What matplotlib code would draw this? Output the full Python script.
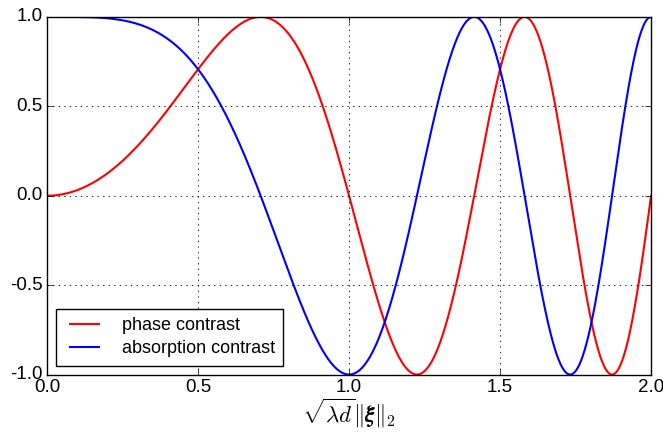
import numpy as np
import matplotlib
matplotlib.use("Agg")
import matplotlib.pyplot as plt

plt.style.use("classic")
plt.rcParams['font.family'] = ['Liberation Sans', 'DejaVu Sans']
plt.rcParams['mathtext.fontset'] = 'cm'

# normalised spatial frequency sqrt(lambda d) * |xi|
freq = np.linspace(0.0, 2.0, 1001)
phase = np.sin(np.pi * freq ** 2)
absorption = np.cos(np.pi * freq ** 2)

xticks = [0.0, 0.5, 1.0, 1.5, 2.0]
yticks = [-1.0, -0.5, 0.0, 0.5, 1.0]

fig = plt.figure(figsize=(6.63, 4.33), dpi=100)
ax = fig.add_axes([0.071, 0.135, 0.911, 0.826])
ax.plot(freq, phase, color="red", lw=1.5, label="phase contrast")
ax.plot(freq, absorption, color="blue", lw=1.5, label="absorption contrast")
ax.set_xlim(0, 2)
ax.set_ylim(-1, 1)
ax.set_xticks(xticks)
ax.set_yticks(yticks)
ax.set_xticklabels(["%.1f" % t for t in xticks])
ax.set_yticklabels(["%.1f" % t for t in yticks])
ax.tick_params(labelsize=13.5, pad=3)
ax.grid(True, color="black", linestyle=":", linewidth=0.6)
ax.set_xlabel(r"$\sqrt{\lambda d}\|\boldsymbol{\xi}\|_2$", fontsize=16.5, labelpad=1)
ax.legend(loc="lower left", prop={'size': 13}, frameon=True, fancybox=False,
          handlelength=2.2, handletextpad=1.0, labelspacing=0.35,
          borderpad=0.45, borderaxespad=0.5)
fig.savefig("out.png", dpi=100)
